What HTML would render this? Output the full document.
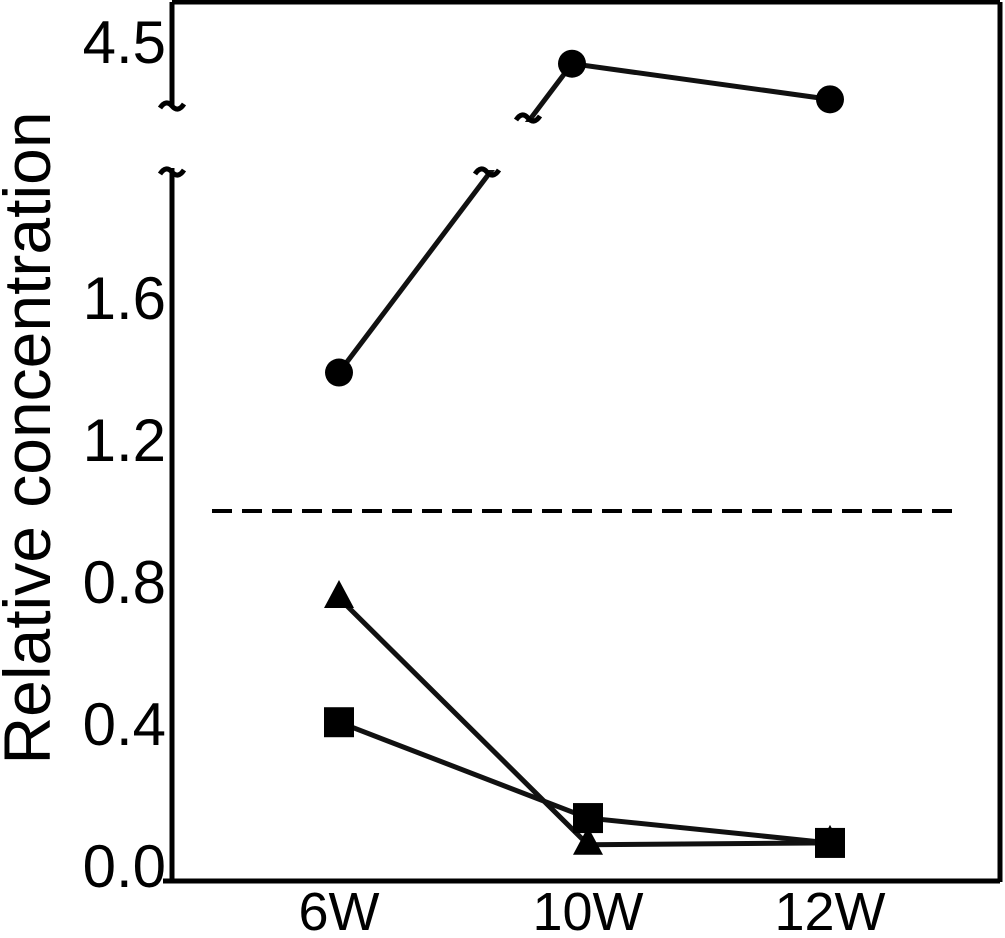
<!DOCTYPE html>
<html><head><meta charset="utf-8"><style>
html,body{margin:0;padding:0;background:#fff;}
svg text{font-family:"Liberation Sans",sans-serif;fill:#000;}
</style></head><body>
<svg id="chart" width="1005" height="933" viewBox="0 0 1005 933" xmlns="http://www.w3.org/2000/svg">
<g id="frame">
<line x1="172" y1="2" x2="1000" y2="2" stroke="#000" stroke-width="5"/>
<line x1="1000" y1="2" x2="1000" y2="882" stroke="#000" stroke-width="5"/>
<line x1="163" y1="881" x2="1000" y2="881" stroke="#000" stroke-width="5"/>
<line x1="172" y1="2" x2="172" y2="106" stroke="#000" stroke-width="5"/>
<line x1="172" y1="168" x2="172" y2="882" stroke="#000" stroke-width="5"/>
</g>
<text transform="translate(50,438) rotate(-90)" text-anchor="middle" font-size="66">Relative concentration</text>
<g id="marks"></g>
</svg>
<script>
const categories=["6W","10W","12W"];
const circleVals=[1.39,4.36,4.13];
const triangleVals=[0.755,0.06,0.065];
const squareVals=[0.405,0.135,0.065];
const lowerTicks=["0.0","0.4","0.8","1.2","1.6"];
const lowerTickVals=[0,0.4,0.8,1.2,1.6];
const upperTicks=["4.5"];
const upperTickVals=[4.5];
const refLine=1.0;

const NS="http://www.w3.org/2000/svg";
const svg=document.getElementById('chart');
const g=document.getElementById('marks');
const xPos=[339,588,830];
const circleXPos=[339,572,830];
function x(i){return xPos[i];}
function y(v){ if(v<=2) return 866-355*v; return 42+(4.5-v)*155; }
function mk(tag,attrs,parent){const e=document.createElementNS(NS,tag);for(const k in attrs)e.setAttribute(k,attrs[k]);(parent||g).appendChild(e);return e;}

lowerTicks.forEach((t,i)=>{
 const e=mk('text',{x:166,y:y(lowerTickVals[i])+21,'text-anchor':'end','font-size':60},svg);
 e.textContent=t;
 
 
});
upperTicks.forEach((t,i)=>{
 const e=mk('text',{x:166,y:y(upperTickVals[i])+21,'text-anchor':'end','font-size':60},svg);
 e.textContent=t;
 
 
});
categories.forEach((c,i)=>{
 const e=mk('text',{x:x(i),y:930,'text-anchor':'middle','font-size':54},svg);
 e.textContent=c;
 
 
});

const ref=mk('line',{x1:212,x2:960,y1:y(refLine),y2:y(refLine),stroke:'#000','stroke-width':4,'stroke-dasharray':'20 10'});



function series(vals,xs,name){
 const pts=vals.map((v,i)=>xs[i]+','+y(v)).join(' ');
 const l=mk('polyline',{points:pts,fill:'none',stroke:'#111','stroke-width':5});
 
 
}
series(circleVals,circleXPos,'circle-series');
const mask=mk('rect',{x:178,y:122,width:360,height:48,fill:'#fff'});


series(triangleVals,xPos,'triangle-series');
series(squareVals,xPos,'square-series');

[[172,106],[172,172],[487,172],[528,118]].forEach(p=>{
 const t=mk('path',{d:`M${p[0]-12},${p[1]+2} q6,-9 12,-2 t12,-2`,fill:'none',stroke:'#000','stroke-width':5});
 
 
});

circleVals.forEach((v,i)=>{
 const c=mk('circle',{cx:circleXPos[i],cy:y(v),r:14,fill:'#000'});
 
 
});
triangleVals.forEach((v,i)=>{
 const cx=x(i),cy=y(v);
 const t=mk('polygon',{points:`${cx},${cy-18} ${cx-15},${cy+10} ${cx+15},${cy+10}`,fill:'#000'});
 
 
});
squareVals.forEach((v,i)=>{
 const s=mk('rect',{x:x(i)-15,y:y(v)-15,width:30,height:30,fill:'#000'});
 
 
});
</script>
</body></html>
